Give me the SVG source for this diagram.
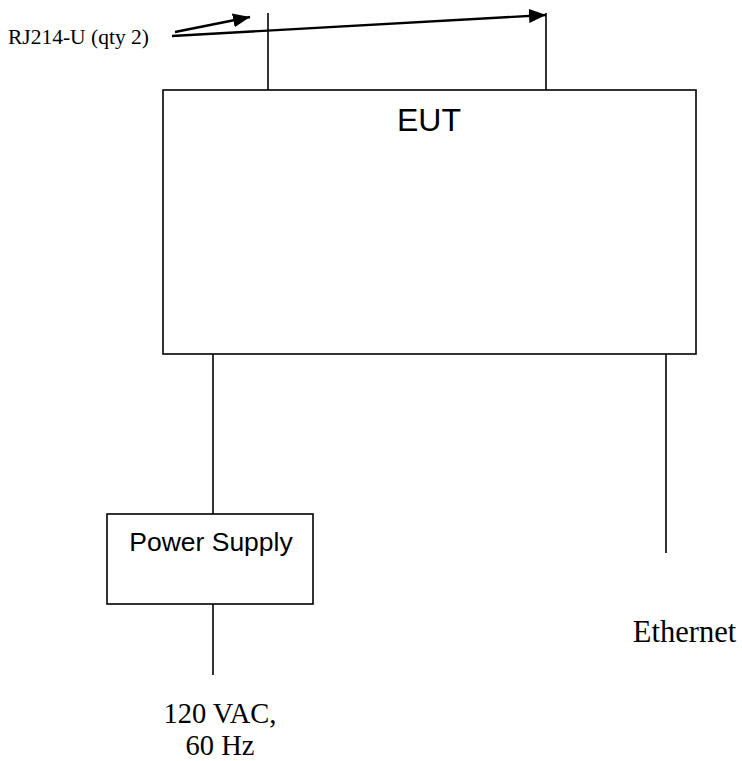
<svg xmlns="http://www.w3.org/2000/svg" width="742" height="761" viewBox="0 0 742 761">
<style>
.box{fill:#fff;stroke:#000;stroke-width:1.6}
.ln{stroke:#000;stroke-width:1.6;fill:none}
.arr{stroke:#000;stroke-width:2.4;fill:none}
.sans{font-family:"Liberation Sans",Arial,sans-serif;fill:#000}
.serif{font-family:"Liberation Serif","Times New Roman",serif;fill:#000}
</style>
<defs>
<marker id="ah" markerUnits="userSpaceOnUse" markerWidth="18" markerHeight="16" refX="17" refY="7" orient="auto">
<path d="M0,0 L17,7 L0,14 Z" fill="#000"/>
</marker>
</defs>
<rect width="742" height="761" fill="#fff"/>
<g id="connectors">
<line class="ln" x1="268" y1="13" x2="268" y2="90"/>
<line class="ln" x1="546" y1="13" x2="546" y2="90"/>
<line class="ln" x1="213" y1="354" x2="213" y2="514"/>
<line class="ln" x1="213" y1="604" x2="213" y2="675"/>
<line class="ln" x1="666" y1="353" x2="666" y2="553"/>
<line class="arr" x1="172" y1="36" x2="546" y2="15" marker-end="url(#ah)"/>
<line class="arr" x1="175" y1="32" x2="250" y2="17" marker-end="url(#ah)"/>
</g>
<g id="eut">
<rect class="box" x="163" y="90" width="533" height="264"/>
<text class="sans" x="429" y="131" font-size="32" text-anchor="middle">EUT</text>
</g>
<g id="power-supply">
<rect class="box" x="107" y="514" width="206" height="90"/>
<text class="sans" x="211" y="551" font-size="26.5" text-anchor="middle">Power Supply</text>
</g>
<g id="label-rj">
<text class="serif" x="8" y="44" font-size="21.5">RJ214-U (qty 2)</text>
</g>
<g id="label-ac">
<text class="serif" x="220" y="723" font-size="28.5" text-anchor="middle">120 VAC,</text>
<text class="serif" x="220" y="755" font-size="28.5" text-anchor="middle">60 Hz</text>
</g>
<g id="label-ethernet">
<text class="serif" x="684.5" y="642" font-size="30.5" text-anchor="middle">Ethernet</text>
</g>
</svg>
